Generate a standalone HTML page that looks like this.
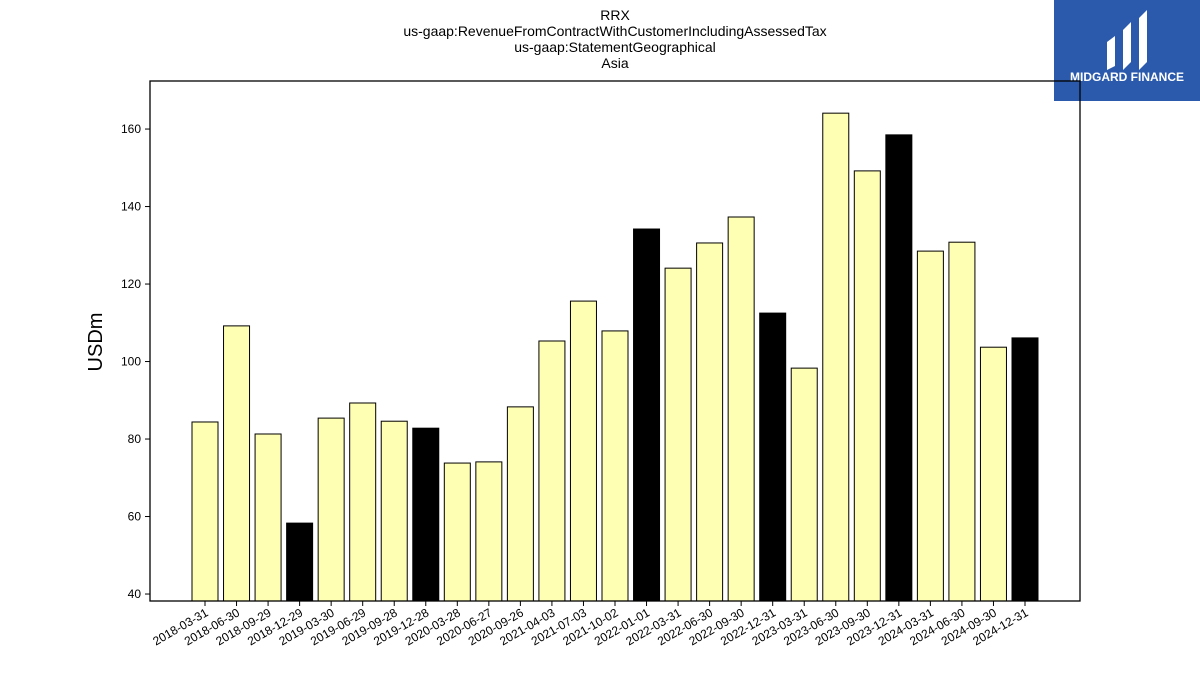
<!DOCTYPE html>
<html><head><meta charset="utf-8"><style>
body{margin:0;background:#fff;font-family:"Liberation Sans",sans-serif}
</style></head><body>
<svg id="chart" width="1200" height="675" xmlns="http://www.w3.org/2000/svg" font-family="Liberation Sans, sans-serif">
<g font-size="14" text-anchor="middle" fill="#000">
<text x="615" y="20">RRX</text>
<text x="615" y="36">us-gaap:RevenueFromContractWithCustomerIncludingAssessedTax</text>
<text x="615" y="52">us-gaap:StatementGeographical</text>
<text x="615" y="68">Asia</text>
</g>
<g>
<rect x="1054" y="0" width="146" height="101" fill="#2b5aad"/>
<path d="M1107 42 L1115 36 L1115 66 L1107 70 Z M1123 30 L1131 22 L1131 62 L1123 70 Z M1139 18 L1147 10 L1147 62 L1139 70 Z" fill="#fff"/>
<text x="1127" y="81" font-size="12" font-weight="bold" fill="#fff" text-anchor="middle">MIDGARD FINANCE</text>
</g>
<g id="plot"></g>
<text x="102" y="342" font-size="20" text-anchor="middle" transform="rotate(-90 102 342)">USDm</text>
</svg>
<script>
const categories=["2018-03-31","2018-06-30","2018-09-29","2018-12-29","2019-03-30","2019-06-29","2019-09-28","2019-12-28","2020-03-28","2020-06-27","2020-09-26","2021-04-03","2021-07-03","2021-10-02","2022-01-01","2022-03-31","2022-06-30","2022-09-30","2022-12-31","2023-03-31","2023-06-30","2023-09-30","2023-12-31","2024-03-31","2024-06-30","2024-09-30","2024-12-31"];
const values=[84.4,109.2,81.3,58.3,85.4,89.3,84.6,82.8,73.8,74.1,88.3,105.3,115.6,107.9,134.2,124.1,130.6,137.3,112.5,98.3,164.1,149.2,158.5,128.5,130.8,103.7,106.1];
const highlight=[0,0,0,1,0,0,0,1,0,0,0,0,0,0,1,0,0,0,1,0,0,0,1,0,0,0,1];
const yTicks=[40,60,80,100,120,140,160];
const NS="http://www.w3.org/2000/svg";
const L=150,R=1080,T=81,B=601,yMin=38.2,yMax=172.4;
const y=v=>B-(v-yMin)/(yMax-yMin)*(B-T);
const step=(1025-205)/26;
const x=i=>205+i*step;
const bw=26;
const g=document.getElementById('plot');
function mk(t,a){const e=document.createElementNS(NS,t);for(const k in a)e.setAttribute(k,a[k]);g.appendChild(e);return e;}
values.forEach((v,i)=>{
 const r=mk('rect',{x:x(i)-bw/2,y:y(v),width:bw,height:B-y(v),fill:highlight[i]?'#000':'#ffffb3',stroke:'#000','stroke-width':1});
 
 
 const tk=mk('line',{x1:x(i),x2:x(i),y1:B,y2:B+5,stroke:'#000'});
 
 
 const tx=mk('text',{x:x(i)+4,y:B+14,'font-size':12,'text-anchor':'end',transform:`rotate(-30 ${x(i)+4} ${B+14})`});
 tx.textContent=categories[i];
 
 
});
yTicks.forEach(t=>{
 const tk=mk('line',{x1:L-5,x2:L,y1:y(t),y2:y(t),stroke:'#000'});
 
 
 const tx=mk('text',{x:L-9,y:y(t)+4,'font-size':12,'text-anchor':'end'});
 tx.textContent=t;
 
 
});
const fr=mk('rect',{x:L,y:T,width:R-L,height:B-T,fill:'none',stroke:'#000','stroke-width':1.3});


</script>
</body></html>
